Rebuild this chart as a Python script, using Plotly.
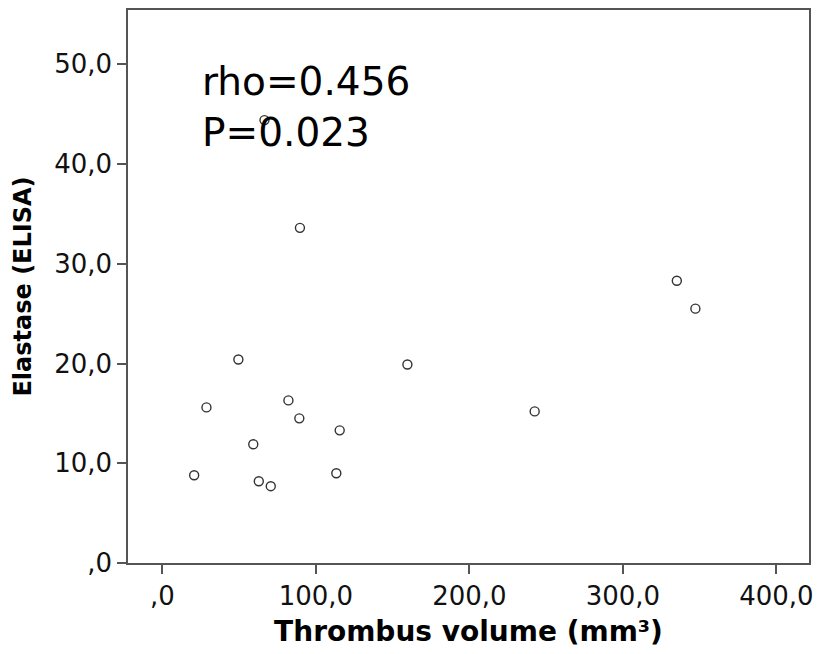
import plotly.graph_objects as go

thrombus_volume = [49.5, 159.6, 28.7, 82.1, 89.2, 115.5, 59.2, 20.7, 62.8, 70.6, 113.3, 335.1, 347.2, 242.5, 89.6, 66.5]
elastase = [20.4, 19.9, 15.6, 16.3, 14.5, 13.3, 11.9, 8.8, 8.2, 7.7, 9.0, 28.3, 25.5, 15.2, 33.6, 44.4]

x_tickvals = [0, 100, 200, 300, 400]
x_ticktext = [",0", "100,0", "200,0", "300,0", "400,0"]
y_tickvals = [0, 10, 20, 30, 40, 50]
y_ticktext = [",0", "10,0", "20,0", "30,0", "40,0", "50,0"]

annotation_text = "rho=0.456<br>P=0.023"

FONT = "DejaVu Sans"
AX = "#555555"

fig = go.Figure()
fig.add_trace(go.Scatter(
    x=thrombus_volume, y=elastase, mode="markers",
    marker=dict(symbol="circle-open", size=9, color="#333333", line=dict(width=1.4)),
    showlegend=False,
))

fig.add_annotation(
    x=0, y=1, xref="paper", yref="paper", xanchor="left", yanchor="top",
    xshift=72, yshift=-47,
    text=annotation_text, showarrow=False, align="left",
    font=dict(family=FONT, size=39, color="#000000"),
)

fig.update_xaxes(
    range=[-22.4, 421.2], tickvals=x_tickvals, ticktext=x_ticktext,
    showgrid=False, zeroline=False, showline=True, linecolor=AX, linewidth=1.5, mirror=True,
    ticks="outside", ticklen=9, tickwidth=1.5, tickcolor=AX, ticklabeloverflow="allow",
    tickfont=dict(family=FONT, size=26, color="#111111"),
    title=dict(text="<b>Thrombus volume (mm³)</b>", font=dict(family=FONT, size=28, color="#000000"), standoff=11),
)
fig.update_yaxes(
    range=[0, 55.44], tickvals=y_tickvals, ticktext=y_ticktext,
    showgrid=False, zeroline=False, showline=True, linecolor=AX, linewidth=1.5, mirror=True,
    ticks="outside", ticklen=9, tickwidth=1.5, tickcolor=AX, ticklabeloverflow="allow",
    tickfont=dict(family=FONT, size=26, color="#111111"),
    title=dict(text="<b>Elastase (ELISA)</b>", font=dict(family=FONT, size=24, color="#000000"), standoff=16),
)

fig.update_layout(
    width=821, height=654,
    margin=dict(l=128, r=8, t=10, b=91, pad=0),
    plot_bgcolor="white", paper_bgcolor="white",
)

fig.write_html(
    "out.html",
    config={"displayModeBar": False},
    post_script="document.body.style.margin='0';document.body.style.padding='0';",
)
